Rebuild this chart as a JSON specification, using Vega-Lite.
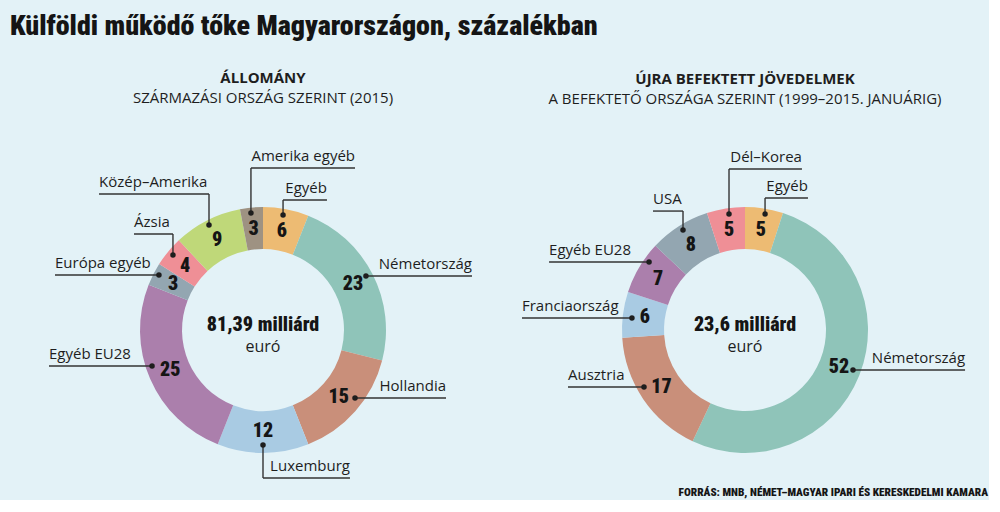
{
  "$schema": "https://vega.github.io/schema/vega-lite/v6.json",
  "background": "#e3f2f7",
  "padding": {"left": 10, "top": 13, "right": 0, "bottom": 0},
  "bounds": "flush",
  "spacing": 0,
  "title": {
    "text": "Külföldi működő tőke Magyarországon, százalékban",
    "anchor": "start",
    "font": "Roboto Condensed, Liberation Sans Narrow, Lato",
    "fontSize": 28,
    "fontWeight": 900,
    "color": "#151515",
    "offset": 30
  },
  "config": {
    "view": {"stroke": null},
    "text": {"font": "Open Sans", "color": "#1e1e1e"}
  },
  "datasets": {
    "allomany": [
      {"nev": "Egyéb", "ertek": 6},
      {"nev": "Németország", "ertek": 23},
      {"nev": "Hollandia", "ertek": 15},
      {"nev": "Luxemburg", "ertek": 12},
      {"nev": "Egyéb EU28", "ertek": 25},
      {"nev": "Európa egyéb", "ertek": 3},
      {"nev": "Ázsia", "ertek": 4},
      {"nev": "Közép-Amerika", "ertek": 9},
      {"nev": "Amerika egyéb", "ertek": 3}
    ],
    "jovedelmek": [
      {"nev": "Egyéb", "ertek": 5},
      {"nev": "Németország", "ertek": 52},
      {"nev": "Ausztria", "ertek": 17},
      {"nev": "Franciaország", "ertek": 6},
      {"nev": "Egyéb EU28", "ertek": 7},
      {"nev": "USA", "ertek": 8},
      {"nev": "Dél-Korea", "ertek": 5}
    ],
    "allomanyCimkek": [
      {"cimke": "Németország", "px": 0.837, "py": 0.439, "ly": 0.439, "lx": 1.699},
      {"cimke": "Hollandia", "px": 0.748, "py": -0.553, "ly": -0.553, "lx": 1.488},
      {"cimke": "Luxemburg", "px": 0.0, "py": -0.935, "ly": -1.203, "lx": 0.707},
      {"cimke": "Egyéb EU28", "px": -0.902, "py": -0.293, "ly": -0.293, "lx": -1.74},
      {"cimke": "Európa egyéb", "px": -0.846, "py": 0.447, "ly": 0.447, "lx": -1.691},
      {"cimke": "Ázsia", "px": -0.732, "py": 0.61, "ly": 0.78, "lx": -1.049},
      {"cimke": "Közép–Amerika", "px": -0.439, "py": 0.854, "ly": 1.106, "lx": -1.333},
      {"cimke": "Amerika egyéb", "px": -0.098, "py": 0.951, "ly": 1.317, "lx": 0.748},
      {"cimke": "Egyéb", "px": 0.163, "py": 0.935, "ly": 1.057, "lx": 0.52}
    ],
    "jovedelmekCimkek": [
      {"cimke": "Németország", "px": 0.878, "py": -0.325, "ly": -0.325, "lx": 1.789},
      {"cimke": "Ausztria", "px": -0.821, "py": -0.463, "ly": -0.463, "lx": -1.439},
      {"cimke": "Franciaország", "px": -0.919, "py": 0.098, "ly": 0.098, "lx": -1.813},
      {"cimke": "Egyéb EU28", "px": -0.78, "py": 0.553, "ly": 0.553, "lx": -1.593},
      {"cimke": "USA", "px": -0.504, "py": 0.813, "ly": 0.967, "lx": -0.748},
      {"cimke": "Dél–Korea", "px": -0.13, "py": 0.943, "ly": 1.309, "lx": 0.463},
      {"cimke": "Egyéb", "px": 0.163, "py": 0.943, "ly": 1.073, "lx": 0.512}
    ]
  },
  "hconcat": [
    {
      "width": 506,
      "height": 340,
      "title": {
        "text": "ÁLLOMÁNY",
        "subtitle": "SZÁRMAZÁSI ORSZÁG SZERINT (2015)",
        "frame": "group",
        "anchor": "middle",
        "offset": 43,
        "font": "Open Sans",
        "fontSize": 15,
        "fontWeight": "bold",
        "color": "#1e1e1e",
        "subtitleFont": "Open Sans",
        "subtitleFontSize": 15,
        "subtitleColor": "#1e1e1e",
        "subtitlePadding": 5
      },
      "layer": [
        {
          "data": {"name": "allomany"},
          "transform": [{"window": [{"op": "row_number", "as": "sorrend"}]}],
          "mark": {"type": "arc", "outerRadius": 123, "innerRadius": 81},
          "encoding": {
            "theta": {"field": "ertek", "type": "quantitative", "stack": true},
            "order": {"field": "sorrend", "type": "quantitative"},
            "color": {
              "field": "nev",
              "type": "nominal",
              "legend": null,
              "scale": {
                "domain": ["Németország", "Hollandia", "Ausztria", "Luxemburg", "Franciaország", "Egyéb EU28", "Európa egyéb", "USA", "Ázsia", "Dél-Korea", "Közép-Amerika", "Amerika egyéb", "Egyéb"],
                "range": ["#8fc4b9", "#c98f7a", "#c98f7a", "#a9cbe3", "#a9cbe3", "#ab7fac", "#93a6b1", "#93a6b1", "#ef8f96", "#ef8f96", "#bfd879", "#9e9282", "#edbb73"]
              }
            }
          }
        },
        {
          "data": {"name": "allomany"},
          "transform": [{"window": [{"op": "row_number", "as": "sorrend"}]}],
          "mark": {"type": "text", "radius": 101, "font": "Roboto Condensed, Liberation Sans Narrow, Lato", "fontSize": 20, "fontWeight": 900, "baseline": "middle", "color": "#151515"},
          "encoding": {
            "theta": {"field": "ertek", "type": "quantitative", "stack": true},
            "order": {"field": "sorrend", "type": "quantitative"},
            "text": {"field": "ertek", "type": "quantitative"}
          }
        },
        {
          "data": {"name": "allomanyCimkek"},
          "mark": {"type": "rule", "color": "#333333", "strokeWidth": 1.4},
          "encoding": {
            "x": {"field": "px", "type": "quantitative", "axis": null, "scale": {"domain": [-2.0569, 2.0569], "nice": false, "zero": false}},
            "y": {"field": "py", "type": "quantitative", "axis": null, "scale": {"domain": [-1.3821, 1.3821], "nice": false, "zero": false}},
            "y2": {"field": "ly"}
          }
        },
        {
          "data": {"name": "allomanyCimkek"},
          "mark": {"type": "rule", "color": "#333333", "strokeWidth": 1.4},
          "encoding": {
            "x": {"field": "px", "type": "quantitative"},
            "x2": {"field": "lx"},
            "y": {"field": "ly", "type": "quantitative"}
          }
        },
        {
          "data": {"name": "allomanyCimkek"},
          "mark": {"type": "circle", "size": 30, "color": "#1e1e1e", "opacity": 1},
          "encoding": {
            "x": {"field": "px", "type": "quantitative"},
            "y": {"field": "py", "type": "quantitative"}
          }
        },
        {
          "data": {"name": "allomanyCimkek"},
          "transform": [{"filter": "datum.lx > datum.px"}],
          "mark": {"type": "text", "align": "right", "baseline": "alphabetic", "dy": -7, "fontSize": 15},
          "encoding": {
            "x": {"field": "lx", "type": "quantitative"},
            "y": {"field": "ly", "type": "quantitative"},
            "text": {"field": "cimke"}
          }
        },
        {
          "data": {"name": "allomanyCimkek"},
          "transform": [{"filter": "datum.lx < datum.px"}],
          "mark": {"type": "text", "align": "left", "baseline": "alphabetic", "dy": -7, "fontSize": 15},
          "encoding": {
            "x": {"field": "lx", "type": "quantitative"},
            "y": {"field": "ly", "type": "quantitative"},
            "text": {"field": "cimke"}
          }
        },
        {
          "data": {"values": [{"osszeg": "81,39 milliárd", "egyseg": "euró"}]},
          "mark": {"type": "text", "align": "center", "baseline": "alphabetic", "font": "Roboto Condensed, Liberation Sans Narrow, Lato", "fontSize": 20, "fontWeight": 900, "color": "#151515"},
          "encoding": {
            "x": {"datum": 0},
            "y": {"datum": -0.01},
            "text": {"field": "osszeg"}
          }
        },
        {
          "data": {"values": [{"osszeg": "81,39 milliárd", "egyseg": "euró"}]},
          "mark": {"type": "text", "align": "center", "baseline": "alphabetic", "fontSize": 16},
          "encoding": {
            "x": {"datum": 0},
            "y": {"datum": -0.179},
            "text": {"field": "egyseg"}
          }
        }
      ]
    },
    {
      "width": 458,
      "height": 340,
      "title": {
        "text": "ÚJRA BEFEKTETT JÖVEDELMEK",
        "subtitle": "A BEFEKTETŐ ORSZÁGA SZERINT (1999–2015. JANUÁRIG)",
        "frame": "group",
        "anchor": "middle",
        "offset": 43,
        "font": "Open Sans",
        "fontSize": 15,
        "fontWeight": "bold",
        "color": "#1e1e1e",
        "subtitleFont": "Open Sans",
        "subtitleFontSize": 15,
        "subtitleColor": "#1e1e1e",
        "subtitlePadding": 5
      },
      "layer": [
        {
          "data": {"name": "jovedelmek"},
          "transform": [{"window": [{"op": "row_number", "as": "sorrend"}]}],
          "mark": {"type": "arc", "outerRadius": 123, "innerRadius": 81},
          "encoding": {
            "theta": {"field": "ertek", "type": "quantitative", "stack": true},
            "order": {"field": "sorrend", "type": "quantitative"},
            "color": {
              "field": "nev",
              "type": "nominal",
              "legend": null,
              "scale": {
                "domain": ["Németország", "Hollandia", "Ausztria", "Luxemburg", "Franciaország", "Egyéb EU28", "Európa egyéb", "USA", "Ázsia", "Dél-Korea", "Közép-Amerika", "Amerika egyéb", "Egyéb"],
                "range": ["#8fc4b9", "#c98f7a", "#c98f7a", "#a9cbe3", "#a9cbe3", "#ab7fac", "#93a6b1", "#93a6b1", "#ef8f96", "#ef8f96", "#bfd879", "#9e9282", "#edbb73"]
              }
            }
          }
        },
        {
          "data": {"name": "jovedelmek"},
          "transform": [{"window": [{"op": "row_number", "as": "sorrend"}]}],
          "mark": {"type": "text", "radius": 101, "font": "Roboto Condensed, Liberation Sans Narrow, Lato", "fontSize": 20, "fontWeight": 900, "baseline": "middle", "color": "#151515"},
          "encoding": {
            "theta": {"field": "ertek", "type": "quantitative", "stack": true},
            "order": {"field": "sorrend", "type": "quantitative"},
            "text": {"field": "ertek", "type": "quantitative"}
          }
        },
        {
          "data": {"name": "jovedelmekCimkek"},
          "mark": {"type": "rule", "color": "#333333", "strokeWidth": 1.4},
          "encoding": {
            "x": {"field": "px", "type": "quantitative", "axis": null, "scale": {"domain": [-1.8618, 1.8618], "nice": false, "zero": false}},
            "y": {"field": "py", "type": "quantitative", "axis": null, "scale": {"domain": [-1.3821, 1.3821], "nice": false, "zero": false}},
            "y2": {"field": "ly"}
          }
        },
        {
          "data": {"name": "jovedelmekCimkek"},
          "mark": {"type": "rule", "color": "#333333", "strokeWidth": 1.4},
          "encoding": {
            "x": {"field": "px", "type": "quantitative"},
            "x2": {"field": "lx"},
            "y": {"field": "ly", "type": "quantitative"}
          }
        },
        {
          "data": {"name": "jovedelmekCimkek"},
          "mark": {"type": "circle", "size": 30, "color": "#1e1e1e", "opacity": 1},
          "encoding": {
            "x": {"field": "px", "type": "quantitative"},
            "y": {"field": "py", "type": "quantitative"}
          }
        },
        {
          "data": {"name": "jovedelmekCimkek"},
          "transform": [{"filter": "datum.lx > datum.px"}],
          "mark": {"type": "text", "align": "right", "baseline": "alphabetic", "dy": -7, "fontSize": 15},
          "encoding": {
            "x": {"field": "lx", "type": "quantitative"},
            "y": {"field": "ly", "type": "quantitative"},
            "text": {"field": "cimke"}
          }
        },
        {
          "data": {"name": "jovedelmekCimkek"},
          "transform": [{"filter": "datum.lx < datum.px"}],
          "mark": {"type": "text", "align": "left", "baseline": "alphabetic", "dy": -7, "fontSize": 15},
          "encoding": {
            "x": {"field": "lx", "type": "quantitative"},
            "y": {"field": "ly", "type": "quantitative"},
            "text": {"field": "cimke"}
          }
        },
        {
          "data": {"values": [{"osszeg": "23,6 milliárd", "egyseg": "euró"}]},
          "mark": {"type": "text", "align": "center", "baseline": "alphabetic", "font": "Roboto Condensed, Liberation Sans Narrow, Lato", "fontSize": 20, "fontWeight": 900, "color": "#151515"},
          "encoding": {
            "x": {"datum": 0},
            "y": {"datum": -0.01},
            "text": {"field": "osszeg"}
          }
        },
        {
          "data": {"values": [{"osszeg": "23,6 milliárd", "egyseg": "euró"}]},
          "mark": {"type": "text", "align": "center", "baseline": "alphabetic", "fontSize": 16},
          "encoding": {
            "x": {"datum": 0},
            "y": {"datum": -0.179},
            "text": {"field": "egyseg"}
          }
        },
        {
          "data": {"values": [{"forras": "FORRÁS: MNB, NÉMET–MAGYAR IPARI ÉS KERESKEDELMI KAMARA"}]},
          "mark": {"type": "text", "align": "right", "baseline": "alphabetic", "font": "Roboto Condensed, Liberation Sans Narrow, Lato", "fontSize": 11.3, "fontWeight": 900, "color": "#151515"},
          "encoding": {
            "x": {"datum": 1.976},
            "y": {"datum": -1.35},
            "text": {"field": "forras"}
          }
        }
      ]
    }
  ]
}
